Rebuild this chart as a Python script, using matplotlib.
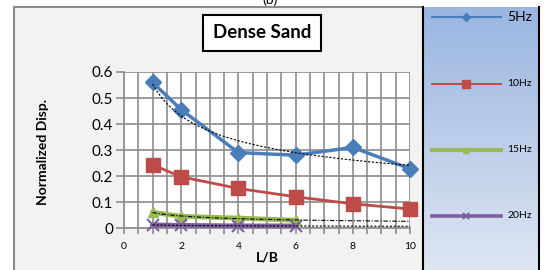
import numpy as np
import matplotlib
matplotlib.use('Agg')
import matplotlib.pyplot as plt
from matplotlib.patches import Rectangle
from matplotlib.lines import Line2D

# data
lb_a = [1, 2, 4, 6, 8, 10]
lb_b = [1, 2, 4, 6]
disp_5hz = [0.56, 0.455, 0.29, 0.28, 0.31, 0.228]
disp_10hz = [0.243, 0.197, 0.152, 0.12, 0.093, 0.073]
disp_15hz = [0.06, 0.045, 0.038, 0.030]
disp_20hz = [0.012, 0.010, 0.008, 0.008]
labels = ['5Hz', '10Hz', '15Hz', '20Hz']

plt.rcParams['font.family'] = ['Lato', 'DejaVu Sans']

fig = plt.figure(figsize=(5.45, 2.7), dpi=100)

# outer chart frame
fig.patches.append(Rectangle((14/545, -0.05), (423-14)/545, 1.05 - 7/270,
                             transform=fig.transFigure, facecolor='#f2f2f2',
                             edgecolor='#8c8c8c', linewidth=1.5, zorder=-5))

# legend panel with gradient
lax = fig.add_axes([423/545, 0, (539-423)/545, 1 - 7/270])
grad = np.linspace(0, 1, 256).reshape(-1, 1)
top = np.array([0.60, 0.71, 0.88])
bot = np.array([0.87, 0.90, 0.95])
img = top + (bot - top) * grad[:, :, None]
lax.imshow(img, aspect='auto', extent=[0, 1, 0, 1], origin='upper')
lax.set_xlim(0, 1)
lax.set_ylim(0, 1)
lax.set_xticks([])
lax.set_yticks([])
for s in ['top', 'bottom']:
    lax.spines[s].set_visible(False)
for s in ['left', 'right']:
    lax.spines[s].set_linewidth(1.5)
    lax.spines[s].set_color('black')

# main plot
ax = fig.add_axes([124/545, 1 - 228/270, (410-124)/545, (228-72)/270])
ax.set_facecolor('white')

styles = [
    dict(color='#4a7ebb', marker='D', ms=8, lw=2.5),
    dict(color='#be4b48', marker='s', ms=10, lw=2),
    dict(color='#98b954', marker='^', ms=7, lw=3.5),
    dict(color='#7d60a0', marker='x', ms=9, mew=1.5, lw=3.5),
]
# legend sample line widths / marker sizes (thinner than in the plot)
leg_lw = [1.5, 1.4, 3, 2.6]
leg_ms = [4, 6, 5, 5]
series = [(lb_a, disp_5hz), (lb_a, disp_10hz), (lb_b, disp_15hz), (lb_b, disp_20hz)]
for (x, y), st in zip(series, styles):
    ax.plot(x, y, color=st['color'], marker=st['marker'], ms=st['ms'],
            lw=st['lw'], mew=st.get('mew', 1), zorder=3, clip_on=False)

# power trendlines (fitted to the data, like the spreadsheet does)
xt = np.linspace(1, 10, 100)
trend_ls = {0: (0, (2, 1.5)), 2: (0, (4, 1.5, 1, 1.5)), 3: (0, (2, 1.5))}
for i, ls in trend_ls.items():
    x, y = series[i]
    b, a = np.polyfit(np.log(x), np.log(y), 1)
    ax.plot(xt, np.exp(a) * xt ** b, color='black', lw=0.8, ls=ls, zorder=4)

ax.set_xlim(0, 10)
ax.set_ylim(0, 0.6)
ax.set_xticks([0, 2, 4, 6, 8, 10])
ax.set_xticks(np.arange(0, 10.01, 0.5), minor=True)
ax.set_yticks(np.arange(0, 0.61, 0.1))
ax.set_yticklabels(['0', '0.1', '0.2', '0.3', '0.4', '0.5', '0.6'], fontsize=11)
ax.set_xticklabels(['0', '2', '4', '6', '8', '10'], fontsize=7.5)
ax.grid(True, which='both', axis='x', color='#8c8c8c', lw=1.2)
ax.grid(True, which='major', axis='y', color='#8c8c8c', lw=1.2)
ax.tick_params(axis='y', length=6, color='#8c8c8c', width=1.2, pad=2)
ax.tick_params(axis='x', which='both', length=4, color='#8c8c8c', width=1.2, pad=6)
for s in ['top', 'right']:
    ax.spines[s].set_visible(False)
for s in ['left', 'bottom']:
    ax.spines[s].set_color('#8c8c8c')
    ax.spines[s].set_linewidth(1.2)
ax.set_axisbelow(True)

fig.text(43/545, 1 - 152/270, 'Normalized Disp.', rotation=90, fontsize=10,
         fontweight='bold', ha='center', va='center')
fig.text(267/545, 1 - 257/270, 'L/B', fontsize=10, fontweight='bold',
         ha='center', va='center')
fig.text(262/545, 1 - 33/270, 'Dense Sand', fontsize=13.5, fontweight='bold',
         ha='center', va='center',
         bbox=dict(boxstyle='square,pad=0.5', facecolor='white',
                   edgecolor='black', linewidth=1.5))
fig.text(270/545, 1.0, '(b)', fontsize=10, ha='center', va='center')

# legend entries drawn by hand in the panel
ley = [17, 84, 150, 216]
lfs = [10, 7.5, 7.5, 7.5]
for st, lab, yy, fs, lw, ms in zip(styles, labels, ley, lfs, leg_lw, leg_ms):
    yf = 1 - yy/270
    fig.add_artist(Line2D([432/545, 501/545], [yf, yf],
                          color=st['color'], lw=lw,
                          transform=fig.transFigure))
    fig.add_artist(Line2D([466/545], [yf], color=st['color'],
                          marker=st['marker'], ms=ms,
                          mew=st.get('mew', 1), transform=fig.transFigure))
    fig.text(507/545, yf, lab, fontsize=fs, ha='left', va='center')

plt.savefig('out.png', dpi=100)
